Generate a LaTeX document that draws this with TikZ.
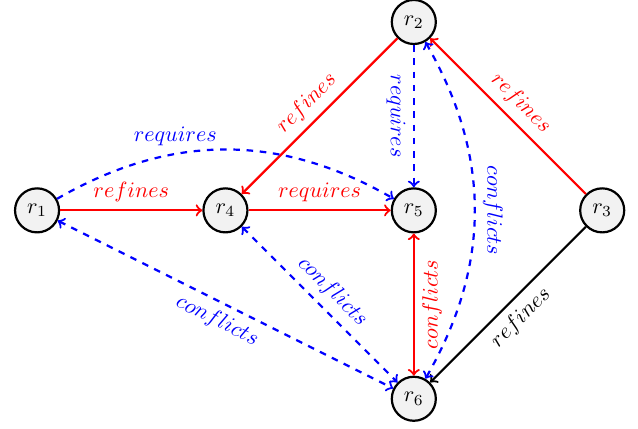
\documentclass[tikz,border=0pt]{standalone}
\begin{document}
\begin{tikzpicture}[req/.style={circle,draw,line width=1pt,fill=gray!10},
  link/.style={->,line width=1pt}]
  \useasboundingbox (-0.59,-3.48) rectangle (9.57,3.35);
  % Requirements
  \node[req] (r1) {$r_1$};
  \node[req] (r4) [right of=r1,xshift=2cm] {$r_4$};
  \node[req] (r5) [right of=r4,xshift=2cm] {$r_5$};
  \node[req] (r3) [right of=r5,xshift=2cm] {$r_3$};
  \node[req] (r2) [above of=r5,yshift=2cm] {$r_2$};
  \node[req] (r6) [below of=r5,yshift=-2cm] {$r_6$};
  % Refines
  \draw[link,red] (r1) -- node[above] {$refines$} (r4);
  \draw[link,red] (r2) -- node[sloped,above] {$refines$} (r4);
  \draw[link,red] (r3) -- node[sloped,above] {$refines$} (r2);
  \draw[link] (r3) -- node[sloped,below] {$refines$} (r6);
  % Requires
  \draw[link,red] (r4) -- node[above] {$requires$} (r5);
  \draw[link,blue,dashed] (r1) to[bend left=30] node[above,pos=0.35] {$requires$} (r5);
  \draw[link,blue,dashed] (r2) -- node[sloped,below] {$requires$} (r5);
  % Conflicts
  \draw[link,<->,red] (r6) -- node[sloped,below] {$conflicts$} (r5);
  \draw[link,<->,blue,dashed] (r2) to[bend left=30] node[sloped,above] {$conflicts$} (r6);
  \draw[link,<->,blue,dashed] (r4) -- node[sloped,above] {$conflicts$} (r6);
  \draw[link,<->,blue,dashed] (r1) -- node[sloped,below] {$conflicts$} (r6);
\end{tikzpicture}
\end{document}
